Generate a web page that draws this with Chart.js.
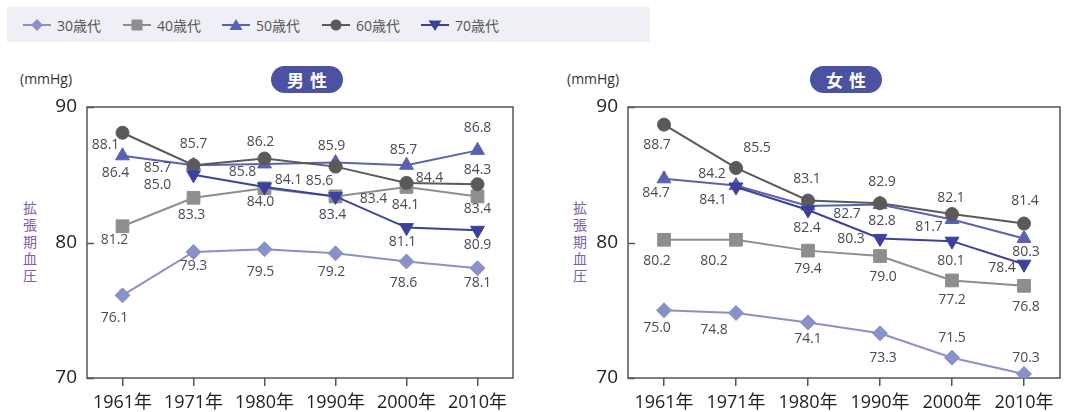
<!DOCTYPE html>
<html lang="ja">
<head>
<meta charset="utf-8">
<title>拡張期血圧の推移</title>
<script src="https://cdn.jsdelivr.net/npm/chart.js@4.4.1/dist/chart.umd.min.js"></script>
<style>
  html, body { margin: 0; padding: 0; background: #fff; width: 1070px; height: 412px; overflow: hidden;
    font-family: 'Open Sans', 'Noto Sans CJK JP', sans-serif; }
  .legend { position: absolute; left: 7px; top: 7px; width: 643px; height: 35px; background: #eff0f6; }
  .item { position: absolute; top: 0; height: 35px; display: flex; align-items: center; font-size: 14px; color: #555; }
  .item svg { margin-right: 6px; }
  .unit { position: absolute; top: 69px; font-size: 14px; color: #333; }
  .pill { position: absolute; top: 66px; width: 72px; height: 27px; border-radius: 14px; background: #4b52a1;
    color: #fff; font-weight: bold; font-size: 17px; text-align: center; line-height: 27px; letter-spacing: 6px;
    text-indent: 6px; font-family: 'Noto Sans CJK JP', sans-serif; }
  .ytitle { position: absolute; top: 201px; writing-mode: vertical-rl; text-orientation: upright; font-size: 14px;
    letter-spacing: 3px; color: #7d63a6; font-family: 'Noto Sans CJK JP', sans-serif; line-height: 1; }
  .box { position: absolute; top: 95px; }
</style>
</head>
<body>

<div class="legend" id="legend"></div>

<div class="unit" style="left:20px">(mmHg)</div>
<div class="pill" style="left:271px">男性</div>
<div class="ytitle" style="left:23px">拡張期血圧</div>

<div class="unit" style="left:567px">(mmHg)</div>
<div class="pill" style="left:810px">女性</div>
<div class="ytitle" style="left:573px">拡張期血圧</div>

<div class="box" style="left:0px"><canvas id="male" width="535" height="317"></canvas></div>
<div class="box" style="left:540px"><canvas id="female" width="530" height="317"></canvas></div>

<script>
// Survey years and age groups
const years = ['1961年', '1971年', '1980年', '1990年', '2000年', '2010年'];
const ageGroups = ['30歳代', '40歳代', '50歳代', '60歳代', '70歳代'];
const yTicks = [70, 80, 90];

// Diastolic blood pressure (mmHg), men
const male30 = [76.1, 79.3, 79.5, 79.2, 78.6, 78.1];
const male40 = [81.2, 83.3, 84.0, 83.4, 84.1, 83.4];
const male50 = [86.4, 85.7, 85.8, 85.9, 85.7, 86.8];
const male60 = [88.1, 85.7, 86.2, 85.6, 84.4, 84.3];
const male70 = [null, 85.0, 84.1, 83.4, 81.1, 80.9];

// Diastolic blood pressure (mmHg), women
const female30 = [75.0, 74.8, 74.1, 73.3, 71.5, 70.3];
const female40 = [80.2, 80.2, 79.4, 79.0, 77.2, 76.8];
const female50 = [84.7, 84.2, 82.7, 82.8, 81.7, 80.3];
const female60 = [88.7, 85.5, 83.1, 82.9, 82.1, 81.4];
const female70 = [null, 84.1, 82.4, 80.3, 80.1, 78.4];

// Line colour and marker per age group
const groupStyles = [
  { color: '#8a90c8', pointStyle: 'rectRot',  radius: 7.5, rotation: 0 },
  { color: '#8e8e8e', pointStyle: 'rect',     radius: 9,   rotation: 0 },
  { color: '#5a61b2', pointStyle: 'triangle', radius: 8,   rotation: 0 },
  { color: '#5a5a5a', pointStyle: 'circle',   radius: 6.5, rotation: 0 },
  { color: '#3c419e', pointStyle: 'triangle', radius: 8,   rotation: 180 }
];

// Value label placement (pixel shift from each marker), per age group
const maleLabelShift = [
  [[-8, 23], [0, 14], [-4, 23], [-4, 19], [-3, 22], [0, 15]],
  [[-8, 14], [-2, 17], [-4, 14], [-3, 19], [-1, 18], [0, 13]],
  [[-7, 17], [-36, 3], [-22, 8], [-4, -17], [-3, -15], [0, -22]],
  [[-17, 12], [0, -21], [-4, -16], [-16, 14], [23, -5], [0, -14]],
  [null, [-36, 10], [24, -7], [38, 3], [-4, 14], [0, 15]]
];
const femaleLabelShift = [
  [[-7, 18], [-22, 17], [0, 17], [3, 25], [0, -20], [2, -16]],
  [[-7, 21], [-22, 21], [0, 18], [3, 21], [0, 20], [2, 21]],
  [[-8, 14], [-24, -12], [39, 8], [2, 16], [-23, 8], [2, 14]],
  [[-7, 20], [21, -20], [-1, -21], [2, -21], [-1, -16], [1, -23]],
  [null, [-23, 13], [-1, 18], [-29, 1], [-1, 20], [-22, 4]]
];

// Legend strip
(function buildLegend() {
  const legend = document.getElementById('legend');
  const starts = [16, 116, 215, 315, 414];
  ageGroups.forEach((name, i) => {
    const s = groupStyles[i];
    let marker = '';
    if (s.pointStyle === 'rectRot') marker = `<polygon points="14,1 20,7 14,13 8,7" fill="${s.color}"/>`;
    else if (s.pointStyle === 'rect') marker = `<rect x="8.5" y="1.5" width="11" height="11" fill="${s.color}"/>`;
    else if (s.pointStyle === 'circle') marker = `<circle cx="14" cy="7" r="5.5" fill="${s.color}"/>`;
    else if (s.rotation === 180) marker = `<polygon points="7.5,2.5 20.5,2.5 14,13" fill="${s.color}"/>`;
    else marker = `<polygon points="14,1 20.5,12 7.5,12" fill="${s.color}"/>`;
    const el = document.createElement('div');
    el.className = 'item';
    el.style.left = starts[i] + 'px';
    el.innerHTML = `<svg width="28" height="14" viewBox="0 0 28 14"><line x1="0" y1="7" x2="28" y2="7" stroke="${s.color}" stroke-width="2"/>${marker}</svg><span>${name}</span>`;
    legend.appendChild(el);
  });
})();

// Plot frame with inward ticks on the value axis
const framePlugin = {
  id: 'frame',
  beforeDatasetsDraw(chart) {
    const { ctx, chartArea: a, scales: { y } } = chart;
    ctx.save();
    ctx.strokeStyle = '#555';
    ctx.lineWidth = 1.5;
    ctx.strokeRect(a.left, a.top, a.right - a.left, a.bottom - a.top);
    yTicks.forEach(v => {
      const py = Math.round(y.getPixelForValue(v)) + 0.5;
      ctx.beginPath();
      ctx.moveTo(a.left, py);
      ctx.lineTo(a.left + 7, py);
      ctx.stroke();
    });
    ctx.restore();
  }
};

// Value labels next to each marker
const valueLabelPlugin = {
  id: 'valueLabels',
  afterDatasetsDraw(chart, args, opts) {
    const { ctx } = chart;
    ctx.save();
    ctx.font = '14px "Open Sans", sans-serif';
    ctx.fillStyle = '#4a4a58';
    ctx.textAlign = 'center';
    ctx.textBaseline = 'middle';
    chart.data.datasets.forEach((ds, di) => {
      const meta = chart.getDatasetMeta(di);
      ds.data.forEach((v, i) => {
        if (v === null) return;
        const shift = opts.shift[di][i];
        const pt = meta.data[i];
        ctx.fillText(v.toFixed(1), pt.x + shift[0], pt.y + shift[1]);
      });
    });
    ctx.restore();
  }
};

function drawPanel(canvasId, series, labelShift, axisWidth, padRight) {
  new Chart(document.getElementById(canvasId), {
    type: 'line',
    data: {
      labels: years,
      datasets: series.map((vals, i) => {
        const s = groupStyles[i];
        return {
          label: ageGroups[i],
          data: vals,
          order: series.length - i,
          borderColor: s.color,
          backgroundColor: s.color,
          borderWidth: 2,
          pointStyle: s.pointStyle,
          pointRadius: s.radius,
          pointRotation: s.rotation,
          pointBackgroundColor: s.color,
          pointBorderColor: s.color,
          pointBorderWidth: 1,
          tension: 0,
          spanGaps: false
        };
      })
    },
    options: {
      responsive: false,
      animation: false,
      devicePixelRatio: 1,
      layout: { padding: { top: 12, right: padRight, left: 0, bottom: 0 } },
      plugins: {
        legend: { display: false },
        tooltip: { enabled: false },
        valueLabels: { shift: labelShift }
      },
      scales: {
        x: {
          offset: true,
          border: { display: false },
          grid: { display: true, drawOnChartArea: false, drawTicks: true, tickLength: 8, color: '#555', lineWidth: 1.5 },
          ticks: { color: '#222', font: { size: 18, family: '"Open Sans", "Noto Sans CJK JP", sans-serif' }, padding: 6, maxRotation: 0 },
          afterFit(scale) { scale.height = 34; scale.paddingLeft = 0; scale.paddingRight = 0; }
        },
        y: {
          min: 70,
          max: 90,
          border: { display: false },
          grid: { display: false, drawTicks: false },
          afterBuildTicks(scale) { scale.ticks = yTicks.map(v => ({ value: v })); },
          ticks: { color: '#222', font: { size: 19, family: '"Open Sans", sans-serif' }, padding: 10 },
          afterFit(scale) { scale.width = axisWidth; scale.paddingTop = 0; scale.paddingBottom = 0; }
        }
      }
    },
    plugins: [framePlugin, valueLabelPlugin]
  });
}

drawPanel('male', [male30, male40, male50, male60, male70], maleLabelShift, 87, 22);
drawPanel('female', [female30, female40, female50, female60, female70], femaleLabelShift, 88, 8);
</script>
</body>
</html>
